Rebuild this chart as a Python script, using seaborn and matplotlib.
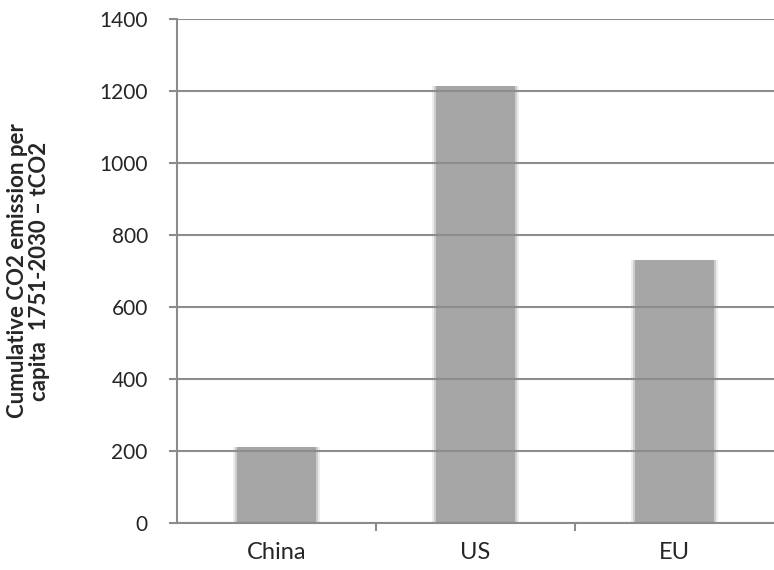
import pandas as pd
import matplotlib
matplotlib.use("Agg")
import matplotlib.pyplot as plt
import seaborn as sns

# values
regions = ["China", "US", "EU"]
emissions = [210, 1215, 730]
yticks = [0, 200, 400, 600, 800, 1000, 1200, 1400]

df = pd.DataFrame({"Region": regions, "Emission": emissions})

sns.set_style("white")
plt.rcParams["font.family"] = ["Lato", "DejaVu Sans"]

grey = "#8c8c8c"
fig = plt.figure(figsize=(7.74, 5.70), dpi=100)
ax = fig.add_axes([177 / 774, 47 / 570, 604 / 774, 504 / 570])

# soft blurred edge around the bars, then the bars themselves
for w, a in [(0.44, 0.2), (0.42, 0.45)]:
    sns.barplot(data=df, x="Region", y="Emission", color="#a6a6a6", width=w,
                saturation=1, alpha=a, linewidth=0, ax=ax, errorbar=None)
sns.barplot(data=df, x="Region", y="Emission", color="#a6a6a6", width=0.4,
            saturation=1, linewidth=0, ax=ax, errorbar=None)

ax.set_xlim(-0.5, 2.5 + 0.035)
ax.set_ylim(0, 1400)
ax.set_yticks(yticks)
ax.set_yticklabels([str(t) for t in yticks], fontsize=15)
ax.set_xticks([0, 1, 2])
ax.set_xticklabels(regions, fontsize=17)
ax.set_xlabel("")

# category boundary ticks on the x axis
ax.set_xticks([0.5, 1.5], minor=True)
ax.tick_params(axis="x", which="major", length=0, pad=14)
ax.tick_params(axis="x", which="minor", length=6, width=1.5, color=grey, direction="out", bottom=True)
ax.tick_params(axis="y", length=6, width=1.5, color=grey, direction="out", left=True, pad=15)

ax.yaxis.grid(True, color=grey, linewidth=1.5)
ax.set_axisbelow(False)
for s in ["top", "right"]:
    ax.spines[s].set_visible(False)
for s in ["left", "bottom"]:
    ax.spines[s].set_color(grey)
    ax.spines[s].set_linewidth(1.5)

ax.set_ylabel("Cumulative CO2 emission per\ncapita  1751-2030 – tCO2",
              fontsize=16, fontweight="bold", va="center", linespacing=1.05)
ax.yaxis.set_label_coords(-0.246, 0.5)

fig.savefig("out.png", dpi=100)
